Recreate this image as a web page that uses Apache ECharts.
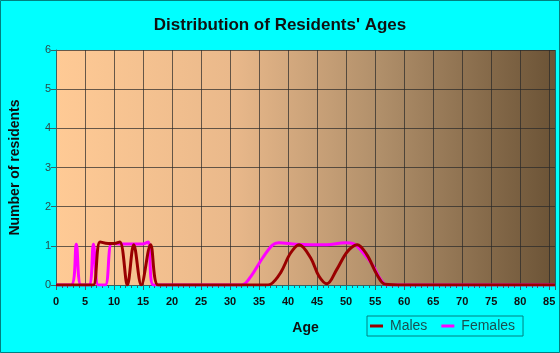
<!DOCTYPE html>
<html>
<head>
<meta charset="utf-8">
<script src="https://cdn.jsdelivr.net/npm/echarts@6/dist/echarts.min.js"></script>
<style>
html,body{margin:0;padding:0;background:#00ffff;}
#c{width:560px;height:353px;}
</style>
</head>
<body>
<div id="c"></div>
<script>
// Data
var maleAges   = [0, 5.5, 6.45, 7.6, 9, 10, 11, 12.3, 13.4, 14.7, 16.3, 17.6, 20, 36, 37, 38.7, 40.4, 41.9, 43.9, 45.3, 46.7, 48.4, 50.2, 51.9, 53.6, 55.3, 56.7, 60, 86];
var maleCounts = [0, 0, 0, 1.1, 1.06, 1.06, 1.1, 0, 1.03, 0, 1.03, 0, 0, 0, 0.02, 0.31, 0.81, 1.03, 0.69, 0.23, 0.03, 0.4, 0.85, 1.03, 0.77, 0.27, 0.02, 0, 0];
var femaleAges   = [0, 2.6, 3.5, 4.3, 5.7, 6.45, 7.3, 8.5, 9.6, 11, 13, 15, 15.9, 16.8, 20, 32, 33.5, 35.6, 37.3, 38.4, 41.3, 44, 46.7, 49.8, 51.3, 53, 54.7, 55.9, 57, 60, 86];
var femaleCounts = [0, 0, 1.04, 0, 0, 1.04, 0, 0, 1.06, 1.05, 1.05, 1.05, 1.1, 0, 0, 0, 0.2, 0.69, 1.02, 1.08, 1.04, 1.03, 1.03, 1.08, 1.05, 0.81, 0.48, 0.15, 0, 0, 0];
var xTickLabels = [0,5,10,15,20,25,30,35,40,45,50,55,60,65,70,75,80,85];
var yTickLabels = [0,1,2,3,4,5,6];

function pairs(a, b){ return a.map(function(v,i){ return [v, b[i]]; }); }

var chart = echarts.init(document.getElementById('c'));
chart.setOption({
  backgroundColor: '#00ffff',
  animation: false,
  title: {
    text: "Distribution of Residents' Ages",
    left: 'center', top: 12,
    textStyle: {fontFamily: 'Liberation Sans, Arial', fontSize: 17, fontWeight: 'bold', color: '#111'}
  },
  graphic: [{
    type: 'rect', shape: {x: 0.5, y: 0.5, width: 559, height: 352},
    style: {fill: 'none', stroke: '#008080', lineWidth: 1}, silent: true, z: 100
  }],
  legend: {
    data: ['Males', 'Females'],
    left: 367, top: 316,
    padding: [3, 8, 3, 3],
    itemGap: 14,
    borderColor: '#008080', borderWidth: 1,
    itemWidth: 13, itemHeight: 3,
    icon: 'rect',
    textStyle: {fontFamily: 'Liberation Sans, Arial', fontSize: 14, color: '#1a5050', padding: [0,0,0,2]}
  },
  grid: {
    left: 54, right: 5, top: 50, bottom: 68,
    show: true, borderWidth: 0,
    backgroundColor: new echarts.graphic.LinearGradient(0, 0, 1, 0, [
      {offset: 0, color: '#ffca95'},
      {offset: 0.35, color: '#eab98b'},
      {offset: 0.65, color: '#b08f6a'},
      {offset: 1, color: '#6b5336'}
    ])
  },
  xAxis: {
    type: 'value', min: 0, max: 86, interval: 5,
    name: 'Age', nameLocation: 'middle', nameGap: 36,
    nameTextStyle: {fontFamily: 'Liberation Sans, Arial', fontSize: 14, fontWeight: 'bold', color: '#111'},
    axisLine: {show: true, lineStyle: {color: '#336666', width: 1}},
    axisTick: {show: true, length: 5, lineStyle: {color: '#336666'}},
    minorTick: {show: true, splitNumber: 5, length: 3, lineStyle: {color: '#336666'}},
    axisLabel: {
      fontFamily: 'Liberation Sans, Arial', fontSize: 11, fontWeight: 'bold', color: '#111', margin: 11,
      formatter: function(v){ return xTickLabels.indexOf(v) >= 0 ? String(v) : ''; }
    },
    splitLine: {show: true, lineStyle: {color: 'rgba(40,40,40,0.7)', width: 1}}
  },
  yAxis: {
    type: 'value', min: 0, max: 6, interval: 1,
    name: 'Number of residents', nameLocation: 'middle', nameGap: 34,
    nameTextStyle: {fontFamily: 'Liberation Sans, Arial', fontSize: 14, fontWeight: 'bold', color: '#111'},
    axisLine: {show: true, lineStyle: {color: '#336666', width: 1}},
    axisTick: {show: true, length: 5, lineStyle: {color: '#336666'}},
    axisLabel: {
      fontFamily: 'Liberation Sans, Arial', fontSize: 11, color: '#2a4a4a', margin: 5,
      formatter: function(v){ return yTickLabels.indexOf(v) >= 0 ? String(v) : ''; }
    },
    splitLine: {show: true, lineStyle: {color: 'rgba(40,40,40,0.7)', width: 1}}
  },
  series: [
    {
      name: 'Females', type: 'line', data: pairs(femaleAges, femaleCounts),
      smooth: 0.35, showSymbol: false, symbol: 'none',
      lineStyle: {color: '#ff00ff', width: 3}, itemStyle: {color: '#ff00ff'}, z: 2
    },
    {
      name: 'Males', type: 'line', data: pairs(maleAges, maleCounts),
      smooth: 0.35, showSymbol: false, symbol: 'none',
      lineStyle: {color: '#990000', width: 3}, itemStyle: {color: '#990000'}, z: 3
    }
  ]
});
</script>
</body>
</html>
